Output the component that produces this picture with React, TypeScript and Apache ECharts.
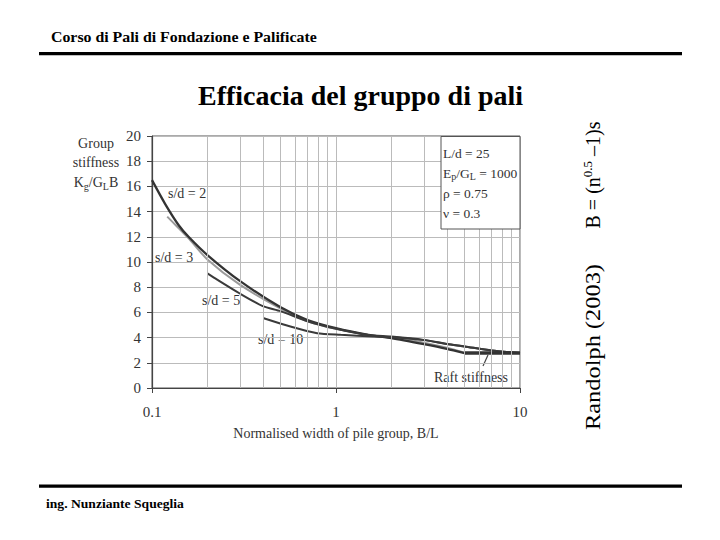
import React, { useEffect, useRef } from "react";
import * as echarts from "echarts";

// ---- data ----
const xMin = 0.1;
const xMax = 10;
const yMin = 0;
const yMax = 20;
const yStep = 2;
const minorGridX = [0.2, 0.3, 0.4, 0.5, 0.6, 0.7, 0.8, 0.9, 2, 3, 4, 5, 6, 7, 8, 9];

const sd2: [number, number][] = [
  [0.1, 16.5], [0.118, 14.6], [0.14, 12.9], [0.158, 12.0], [0.2, 10.55], [0.3, 8.5],
  [0.5, 6.4], [0.7, 5.4], [1, 4.75], [1.5, 4.22], [2, 3.96], [3, 3.48], [4, 3.11], [5, 2.77],
];
const sd3: [number, number][] = [
  [0.121, 13.6], [0.135, 12.9], [0.16, 11.8], [0.2, 10.2], [0.3, 8.2], [0.5, 6.3],
  [0.7, 5.3], [1, 4.7], [1.5, 4.2], [2, 4.0], [3, 3.6], [4, 3.2], [5, 2.8],
];
const sd5: [number, number][] = [
  [0.2, 9.1], [0.226, 8.6], [0.3, 7.5], [0.4, 6.5], [0.5, 6.1], [0.7, 5.3], [1, 4.7],
  [1.5, 4.2], [2, 4.08], [3, 3.82], [4, 3.5], [5, 3.3], [7, 2.98], [10, 2.77],
];
const sd10: [number, number][] = [
  [0.405, 5.54], [0.565, 4.88], [0.79, 4.35], [1.06, 4.22], [1.6, 4.09], [2, 4.05],
  [3, 3.8], [4, 3.5], [5, 3.3], [7, 2.98], [10, 2.77],
];
const raft: [number, number][] = [[5, 2.77], [10, 2.77]];

const headerText = "Corso di Pali di Fondazione e Palificate";
const titleText = "Efficacia del gruppo di pali";
const footerText = "ing. Nunziante Squeglia";
const xAxisName = "Normalised width of pile group, B/L";
const curveLabels = ["s/d = 2", "s/d = 3", "s/d = 5", "s/d = 10", "Raft stiffness"];
const paramLines = [
  "{a|L/d = 25}",
  "{a|E}{sub|p}{a|/G}{sub|L}{a| = 1000}",
  "{a|ρ = 0.75}",
  "{a|ν = 0.3}",
];

const SERIF = "'Liberation Serif', 'Times New Roman', serif";

function fitScale(text: string, font: string, target: number): number {
  const c = document.createElement("canvas").getContext("2d");
  if (!c) return 1;
  c.font = font;
  const w = c.measureText(text).width;
  return w > 0 ? target / w : 1;
}

export default function App() {
  const ref = useRef<HTMLDivElement>(null);
  useEffect(() => {
    if (!ref.current) return;
    const chart = echarts.init(ref.current, undefined, { renderer: "svg" });

    const headerFont = `bold 14px ${SERIF}`;
    const titleFont = `bold 27px ${SERIF}`;
    const footerFont = `bold 13px ${SERIF}`;
    const vFont = `20px ${SERIF}`;
    const hs = fitScale(headerText, headerFont, 266);
    const ts = fitScale(titleText, titleFont, 325);
    const fs = fitScale(footerText, footerFont, 138);
    const rs = fitScale("Randolph (2003)", vFont, 166);

    const lineSeries = (name: string, data: [number, number][], color: string, width: number) => ({
      name,
      type: "line",
      data,
      symbol: "none",
      smooth: 0.25,
      silent: true,
      lineStyle: { color, width },
      z: 3,
    });

    const labelStyle = { fontFamily: SERIF, fontSize: 14, fill: "#333" };

    chart.setOption({
      animation: false,
      backgroundColor: "#ffffff",
      grid: {
        left: 152,
        top: 136,
        width: 368,
        height: 252,
        show: true,
        borderColor: "#555",
        borderWidth: 1,
        backgroundColor: "transparent",
      },
      xAxis: {
        type: "log",
        logBase: 10,
        min: xMin,
        max: xMax,
        name: xAxisName,
        nameLocation: "middle",
        nameGap: 38,
        nameTextStyle: { fontFamily: SERIF, fontSize: 14, color: "#333" },
        axisLine: { show: true, lineStyle: { color: "#444", width: 1.2 } },
        axisTick: { show: true, length: 5, lineStyle: { color: "#444" } },
        axisLabel: { fontFamily: SERIF, fontSize: 15, color: "#333", margin: 16 },
        splitLine: { show: true, lineStyle: { color: "#bbb", width: 1 } },
      },
      yAxis: {
        type: "value",
        min: yMin,
        max: yMax,
        interval: yStep,
        axisLine: { show: true, lineStyle: { color: "#444", width: 1.2 } },
        axisTick: { show: true, length: 5, lineStyle: { color: "#444" } },
        axisLabel: { fontFamily: SERIF, fontSize: 15, color: "#333", margin: 11 },
        splitLine: { show: true, lineStyle: { color: "#bbb", width: 1 } },
      },
      series: [
        {
          type: "line",
          data: [],
          silent: true,
          markLine: {
            silent: true,
            symbol: ["none", "none"],
            label: { show: false },
            lineStyle: { color: "#bbb", type: "solid", width: 1 },
            data: minorGridX.map((v) => ({ xAxis: v })),
          },
          z: 1,
        },
        lineSeries("s/d = 3", sd3, "#9a9a9a", 2),
        lineSeries("s/d = 2", sd2, "#333", 2.3),
        lineSeries("s/d = 5", sd5, "#3a3a3a", 2),
        lineSeries("s/d = 10", sd10, "#3a3a3a", 2),
        { ...lineSeries("Raft stiffness", raft, "#333", 3.5), smooth: false },
      ],
      graphic: [
        // header
        {
          type: "text", left: 51, top: 30, scaleX: hs,
          style: { text: headerText, font: headerFont, fill: "#000" },
        },
        { type: "rect", shape: { x: 39, y: 52, width: 643, height: 3.3 }, style: { fill: "#000" } },
        {
          type: "text", x: 198, y: 96, scaleX: ts,
          style: { text: titleText, font: titleFont, fill: "#000", verticalAlign: "middle" },
        },
        // footer
        { type: "rect", shape: { x: 39, y: 484.5, width: 643, height: 3.3 }, style: { fill: "#000" } },
        {
          type: "text", x: 46, y: 504, scaleX: fs,
          style: { text: footerText, font: footerFont, fill: "#000", verticalAlign: "middle" },
        },
        // vertical side text
        {
          type: "text", x: 593, y: 347, rotation: Math.PI / 2, scaleX: rs,
          style: { text: "Randolph (2003)", font: vFont, fill: "#000", align: "center", verticalAlign: "middle" },
        },
        {
          type: "text", x: 593, y: 175, rotation: Math.PI / 2,
          style: {
            text: "{a|B = (n}{sup|0.5}{a| –1)s}",
            align: "center",
            verticalAlign: "middle",
            rich: {
              a: { fontFamily: SERIF, fontSize: 20, fill: "#000", lineHeight: 24 },
              sup: { fontFamily: SERIF, fontSize: 13, fill: "#000", verticalAlign: "top", lineHeight: 14 },
            },
          },
        },
        // y axis name
        { type: "text", x: 96, y: 143, style: { ...labelStyle, text: "Group", align: "center", verticalAlign: "middle" } },
        { type: "text", x: 96, y: 162, style: { ...labelStyle, text: "stiffness", align: "center", verticalAlign: "middle" } },
        {
          type: "text", x: 96, y: 182,
          style: {
            text: "{a|K}{sub|g}{a|/G}{sub|L}{a|B}",
            align: "center",
            verticalAlign: "middle",
            rich: {
              a: { fontFamily: SERIF, fontSize: 14, fill: "#333", lineHeight: 18 },
              sub: { fontFamily: SERIF, fontSize: 10, fill: "#333", verticalAlign: "bottom", lineHeight: 12 },
            },
          },
        },
        // parameter box
        {
          type: "rect", z: 50,
          shape: { x: 441, y: 136.5, width: 79, height: 92.5 },
          style: { fill: "#fff", stroke: "#555", lineWidth: 1 },
        },
        ...paramLines.map((t, i) => ({
          type: "text", z: 51, x: 443, y: 153 + i * 20,
          style: {
            text: t,
            verticalAlign: "middle",
            rich: {
              a: { fontFamily: SERIF, fontSize: 13.5, fill: "#333", lineHeight: 17 },
              sub: { fontFamily: SERIF, fontSize: 10, fill: "#333", verticalAlign: "bottom", lineHeight: 12 },
            },
          },
        })),
        // curve annotations
        { type: "text", x: 168, y: 193, style: { ...labelStyle, text: curveLabels[0], verticalAlign: "middle" } },
        { type: "text", x: 155, y: 257, style: { ...labelStyle, text: curveLabels[1], verticalAlign: "middle" } },
        { type: "text", x: 202, y: 300, style: { ...labelStyle, text: curveLabels[2], verticalAlign: "middle" } },
        { type: "text", x: 258, y: 339, style: { ...labelStyle, text: curveLabels[3], verticalAlign: "middle" } },
        { type: "text", x: 434, y: 377, style: { ...labelStyle, text: curveLabels[4], verticalAlign: "middle" } },
        { type: "line", shape: { x1: 483, y1: 366, x2: 488, y2: 355 }, style: { stroke: "#444", lineWidth: 1.2 } },
      ],
    });
    return () => chart.dispose();
  }, []);
  return (
    <div
      ref={ref}
      style={{ position: "fixed", left: 0, top: 0, width: 720, height: 540, background: "#fff" }}
    />
  );
}
